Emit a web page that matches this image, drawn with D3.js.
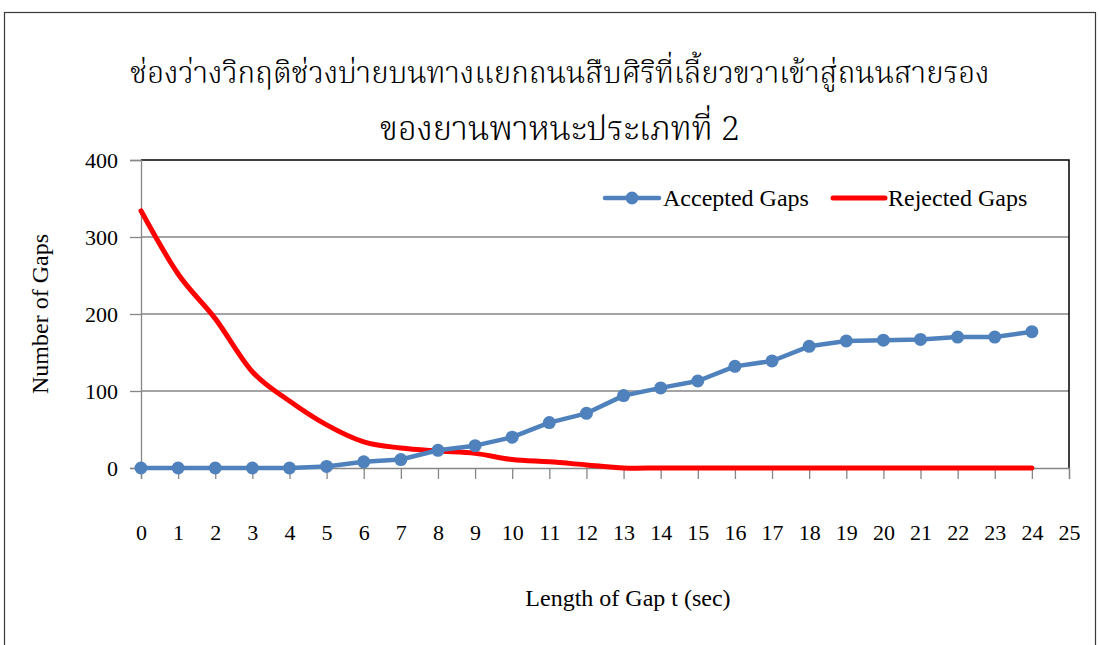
<!DOCTYPE html>
<html>
<head>
<meta charset="utf-8">
<script src="https://cdn.jsdelivr.net/npm/d3@7"></script>
<style>
  html, body { margin: 0; padding: 0; background: #fff; }
  svg text { font-family: "Liberation Serif", "Times New Roman", serif; fill: #000; }
  svg text.title { font-family: "Kinnari", "Norasi", "Noto Serif Thai", "Liberation Serif", serif; font-weight: 300; }
</style>
</head>
<body>
<svg id="chart" width="1099" height="645"></svg>
<script>
// Gap length in seconds (category axis 0..25)
const gapSeconds = d3.range(0, 25);
const xTickLabels = d3.range(0, 26).map(String);
// Counts of accepted and rejected gaps at each gap length
const acceptedGaps = [0, 0, 0, 0, 0, 2, 8, 11, 23, 29, 40, 59, 71, 94, 104, 113, 132, 139, 158, 165, 166, 167, 170, 170, 177];
const rejectedGaps = [334, 252, 194, 125, 87, 56, 34, 26, 22, 19, 11, 8, 4, 0, 0, 0, 0, 0, 0, 0, 0, 0, 0, 0, 0];
const yTicks = [0, 100, 200, 300, 400];

const titleLines = ["ช่องว่างวิกฤติช่วงบ่ายบนทางแยกถนนสืบศิริที่เลี้ยวขวาเข้าสู่ถนนสายรอง", "ของยานพาหนะประเภทที่ 2"];
const seriesNames = ["Accepted Gaps", "Rejected Gaps"];
const yAxisTitle = "Number of Gaps";
const xAxisTitle = "Length of Gap t (sec)";

const svg = d3.select("#chart");
const plot = { left: 141, right: 1069, top: 160, bottom: 468 };
const axisGray = "#868686";
const blue = "#4F81BD";
const red = "#FF0000";

const x = d3.scaleLinear().domain([0, 25]).range([plot.left, plot.right]);
const y = d3.scaleLinear().domain([0, 400]).range([plot.bottom, plot.top]);

// outer chart frame
svg.append("rect")
  .attr("x", 4.5).attr("y", 12.5).attr("width", 1091).attr("height", 660)
  .attr("fill", "none").attr("stroke", "#3a3a3a").attr("stroke-width", 1.2);

// title, two centred lines; font size fitted to the wanted line width
const titleLayout = [{ y: 83, w: 860 }, { y: 140, w: 360 }];
titleLines.forEach((t, i) => {
  const el = svg.append("text")
    .attr("class", "title")
    .attr("x", 560).attr("y", titleLayout[i].y)
    .attr("text-anchor", "middle")
    .attr("font-size", 30)
    .text(t);
  const len = el.node().getComputedTextLength();
  if (len > 0) el.attr("font-size", Math.min(34, 30 * titleLayout[i].w / len));
});

// horizontal gridlines
svg.append("g").selectAll("line")
  .data(yTicks.filter(v => v > 0 && v < 400))
  .join("line")
  .attr("x1", plot.left).attr("x2", plot.right)
  .attr("y1", d => y(d)).attr("y2", d => y(d))
  .attr("stroke", axisGray).attr("stroke-width", 1.3);

// plot area border (top and right)
svg.append("path")
  .attr("d", `M${plot.left},${y(400)}H${plot.right}V${y(0)}`)
  .attr("fill", "none").attr("stroke", "#000").attr("stroke-width", 1.5);

// y axis
const yAxis = d3.axisLeft(y).tickValues(yTicks).tickSize(11).tickPadding(12).tickFormat(d3.format("d"));
const gy = svg.append("g").attr("transform", `translate(${plot.left},0)`).call(yAxis);
gy.select(".domain").attr("stroke", axisGray).attr("stroke-width", 1.3);
gy.selectAll(".tick line").attr("stroke", axisGray).attr("stroke-width", 1.3);
gy.selectAll(".tick text").attr("font-size", 22).attr("font-family", "Liberation Serif").attr("fill", "#000");

// x axis
const xAxis = d3.axisBottom(x).tickValues(d3.range(0, 26)).tickSize(11).tickPadding(45)
  .tickFormat(d => xTickLabels[d]);
const gx = svg.append("g").attr("transform", `translate(0,${plot.bottom})`).call(xAxis);
gx.select(".domain").attr("stroke", axisGray).attr("stroke-width", 1.3);
gx.selectAll(".tick line").attr("stroke", axisGray).attr("stroke-width", 1.3);
gx.selectAll(".tick text").attr("font-size", 22).attr("font-family", "Liberation Serif").attr("fill", "#000");

// axis titles
svg.append("text")
  .attr("transform", `translate(48,${(plot.top + plot.bottom) / 2}) rotate(-90)`)
  .attr("text-anchor", "middle").attr("font-size", 24)
  .text(yAxisTitle);
svg.append("text")
  .attr("x", 628).attr("y", 606)
  .attr("text-anchor", "middle").attr("font-size", 24)
  .text(xAxisTitle);

// rejected gaps: smoothed line
const rejLine = d3.line().x((d, i) => x(gapSeconds[i])).y(d => y(d)).curve(d3.curveCardinal.tension(0));
svg.append("path")
  .datum(rejectedGaps)
  .attr("d", rejLine)
  .attr("fill", "none").attr("stroke", red).attr("stroke-width", 5)
  .attr("stroke-linecap", "round").attr("stroke-linejoin", "round");

// accepted gaps: straight line with circle markers
const accLine = d3.line().x((d, i) => x(gapSeconds[i])).y(d => y(d));
svg.append("path")
  .datum(acceptedGaps)
  .attr("d", accLine)
  .attr("fill", "none").attr("stroke", blue).attr("stroke-width", 4.5)
  .attr("stroke-linejoin", "round");
svg.append("g").selectAll("circle")
  .data(acceptedGaps)
  .join("circle")
  .attr("cx", (d, i) => x(gapSeconds[i])).attr("cy", d => y(d))
  .attr("r", 6.5).attr("fill", blue);

// legend
const legendY = 198;
const lg = svg.append("g");
lg.append("line").attr("x1", 605).attr("x2", 659).attr("y1", legendY).attr("y2", legendY)
  .attr("stroke", blue).attr("stroke-width", 4.5).attr("stroke-linecap", "round");
lg.append("circle").attr("cx", 632).attr("cy", legendY).attr("r", 6.5).attr("fill", blue);
lg.append("text").attr("x", 663).attr("y", legendY + 8).attr("font-size", 24).text(seriesNames[0]);
lg.append("line").attr("x1", 833).attr("x2", 885).attr("y1", legendY).attr("y2", legendY)
  .attr("stroke", red).attr("stroke-width", 5).attr("stroke-linecap", "round");
lg.append("text").attr("x", 888).attr("y", legendY + 8).attr("font-size", 24).text(seriesNames[1]);
</script>
</body>
</html>
